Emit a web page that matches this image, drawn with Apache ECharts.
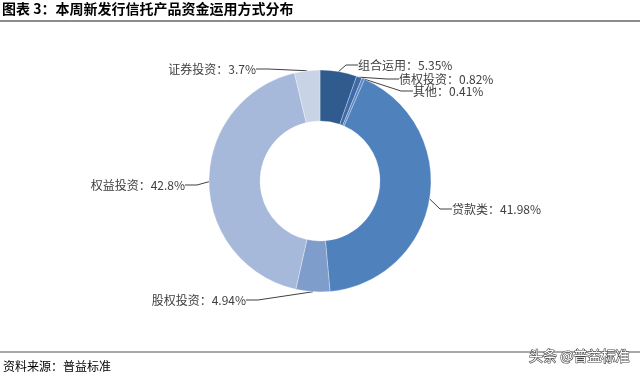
<!DOCTYPE html>
<html>
<head>
<meta charset="utf-8">
<script src="https://cdn.jsdelivr.net/npm/echarts@6/dist/echarts.min.js"></script>
<style>
  html, body { margin: 0; padding: 0; background: #fff; }
  #main { width: 640px; height: 378px; }
</style>
</head>
<body>
<div id="main"></div>
<script>
// data
const names = ['组合运用', '债权投资', '其他', '贷款类', '股权投资', '权益投资', '证券投资'];
const shares = [5.35, 0.82, 0.41, 41.98, 4.94, 42.8, 3.7];
const colors = ['#2f5b8f', '#3e6ba8', '#5b86c2', '#4f81bd', '#7f9dcb', '#a7b9da', '#c8d3e6'];

// where each label sits (text anchor x, centre y, alignment)
const labelSpots = [
  [358, 65, 'left'],
  [399, 79, 'left'],
  [413, 91, 'left'],
  [452, 209, 'left'],
  [246, 300, 'right'],
  [185, 185, 'right'],
  [256, 69, 'right']
];

const font = '"Noto Sans CJK SC", "Microsoft YaHei", sans-serif';
const chart = echarts.init(document.getElementById('main'));

chart.setOption({
  animation: false,
  graphic: [
    { type: 'text', left: 2, top: 2, style: { text: '图表 3：本周新发行信托产品资金运用方式分布', font: 'bold 14px ' + font, fill: '#000' } },
    { type: 'line', shape: { x1: 0, y1: 21, x2: 640, y2: 21 }, style: { stroke: '#8c8c8c', lineWidth: 2 } },
    { type: 'line', shape: { x1: 0, y1: 352, x2: 640, y2: 352 }, style: { stroke: '#8c8c8c', lineWidth: 1.5 } },
    { type: 'text', left: 3, top: 360, style: { text: '资料来源：普益标准', font: '12px ' + font, fill: '#000' } },
    { type: 'text', right: 10, top: 348, style: { text: '头条 @普益标准', font: '14px ' + font, fill: '#fff', stroke: '#444', lineWidth: 1.2 } }
  ],
  series: [{
    type: 'pie',
    center: [320, 181],
    radius: [60, 111],
    startAngle: 90,
    clockwise: true,
    data: names.map((n, i) => ({ name: n, value: shares[i], itemStyle: { color: colors[i] } })),
    itemStyle: { borderColor: 'rgba(255,255,255,0.6)', borderWidth: 0.5 },
    label: {
      show: true,
      formatter: p => p.name + '：' + p.value + '%',
      fontFamily: font,
      fontSize: 12,
      color: '#404040'
    },
    labelLine: { show: true, length: 8, length2: 12, lineStyle: { color: '#404040', width: 1 } },
    labelLayout: p => {
      const s = labelSpots[p.dataIndex];
      const w = p.labelRect.width;
      return {
        x: s[2] === 'left' ? s[0] : s[0] - w,
        y: s[1] - p.labelRect.height / 2,
        align: 'left',
        verticalAlign: 'top'
      };
    }
  }]
});
</script>
</body>
</html>
